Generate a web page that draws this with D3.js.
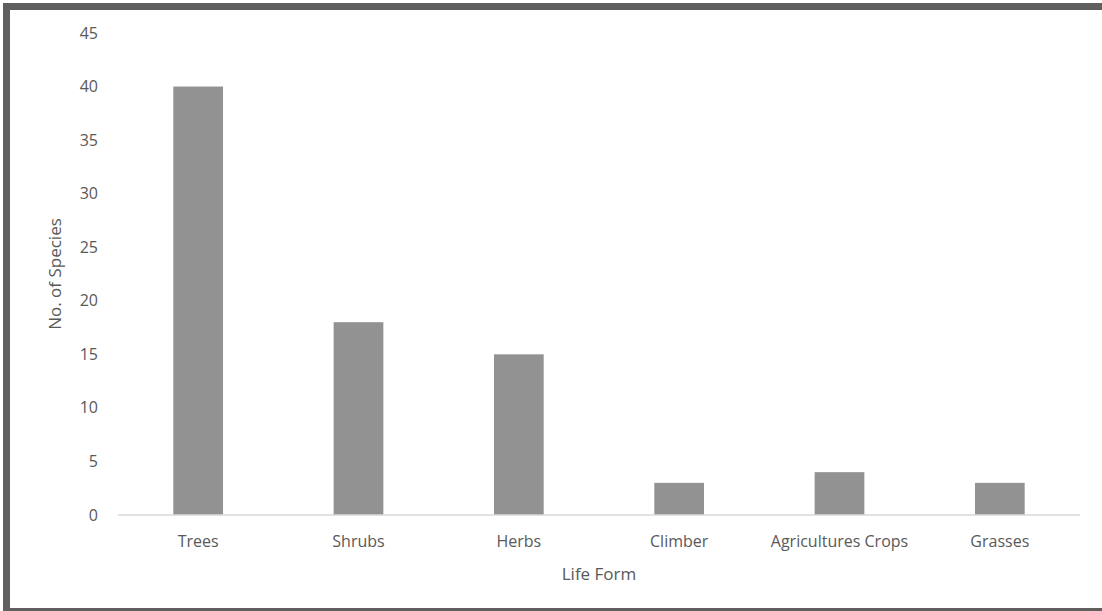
<!DOCTYPE html>
<html>
<head>
<meta charset="utf-8">
<script src="https://cdn.jsdelivr.net/npm/d3@7"></script>
<style>
  body { margin: 0; background: #fff; }
  text { font-family: "Open Sans", Lato, sans-serif; fill: #595959; }
</style>
</head>
<body>
<div id="chart"></div>
<script>
var categories = ["Trees", "Shrubs", "Herbs", "Climber", "Agricultures Crops", "Grasses"];
var species = [40, 18, 15, 3, 4, 3];
var yTicks = [0, 5, 10, 15, 20, 25, 30, 35, 40, 45];

var width = 1102, height = 611;
var margin = {top: 33, right: 22, bottom: 96, left: 118};

var svg = d3.select("#chart").append("svg")
  .attr("width", width)
  .attr("height", height);

// dark frame (cut off at right)
svg.append("rect").attr("x", 3).attr("y", 3).attr("width", width + 20).attr("height", 7).attr("fill", "#5f5f5f");
svg.append("rect").attr("x", 3).attr("y", 3).attr("width", 7).attr("height", height).attr("fill", "#5f5f5f");
svg.append("rect").attr("x", 3).attr("y", 608).attr("width", width + 20).attr("height", 3).attr("fill", "#5f5f5f");

var x = d3.scaleBand()
  .domain(categories)
  .range([margin.left, width - margin.right])
  .paddingInner(0.69)
  .paddingOuter(0.345);

var y = d3.scaleLinear()
  .domain([0, 45])
  .range([height - margin.bottom, margin.top]);

var data = categories.map(function(c, i) { return {cat: c, val: species[i]}; });

svg.selectAll(".bar")
  .data(data)
  .enter().append("rect")
  .attr("class", "bar")
  .attr("x", function(d) { return x(d.cat); })
  .attr("y", function(d) { return y(d.val); })
  .attr("width", x.bandwidth())
  .attr("height", function(d) { return y(0) - y(d.val); })
  .attr("fill", "#929292");

// baseline
svg.append("line")
  .attr("x1", margin.left).attr("x2", width - margin.right)
  .attr("y1", y(0)).attr("y2", y(0))
  .attr("stroke", "#d9d9d9").attr("stroke-width", 1.5);

// y tick labels
svg.selectAll(".ytick")
  .data(yTicks)
  .enter().append("text")
  .attr("class", "ytick")
  .attr("x", 98)
  .attr("y", function(d) { return y(d); })
  .attr("dy", "0.35em")
  .attr("text-anchor", "end")
  .style("font-size", "16px")
  .text(function(d) { return d; });

// x labels
svg.selectAll(".xtick")
  .data(categories)
  .enter().append("text")
  .attr("class", "xtick")
  .attr("x", function(d) { return x(d) + x.bandwidth() / 2; })
  .attr("y", 541)
  .attr("dy", "0.35em")
  .attr("text-anchor", "middle")
  .style("font-size", "16px")
  .text(function(d) { return d; });

svg.append("text")
  .attr("x", (margin.left + width - margin.right) / 2)
  .attr("y", 574)
  .attr("dy", "0.35em")
  .attr("text-anchor", "middle")
  .style("font-size", "17px")
  .text("Life Form");

svg.append("text")
  .attr("transform", "translate(55," + y(22.5) + ") rotate(-90)")
  .attr("dy", "0.35em")
  .attr("text-anchor", "middle")
  .style("font-size", "17px")
  .text("No. of Species");
</script>
</body>
</html>
